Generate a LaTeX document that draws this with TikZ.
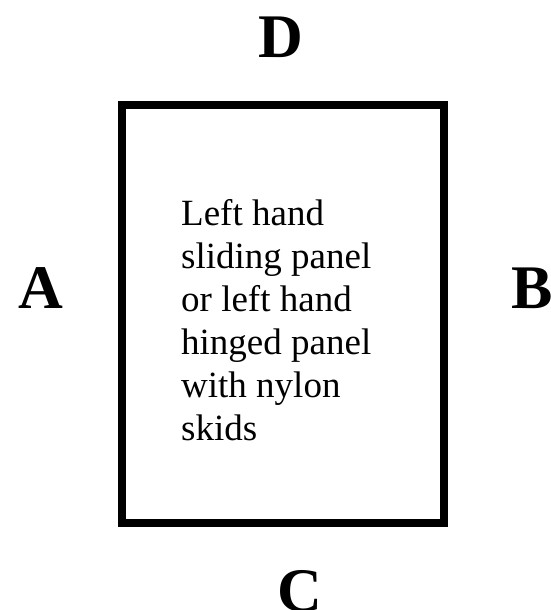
\documentclass[tikz,border=0pt]{standalone}
\usepackage{fontspec}
\setmainfont{Liberation Serif}
\begin{document}
\begin{tikzpicture}[x=1pt,y=1pt,
  side/.style={font=\fontsize{62}{70}\selectfont\bfseries, inner sep=0pt, anchor=base},
  panel/.style={draw=black, line width=8pt},
  body/.style={font=\fontsize{37}{42.9}\selectfont, align=left, inner sep=0pt, anchor=base west}]
\useasboundingbox (0,-610) rectangle (550,0);
\draw[panel] (122,-104.5) rectangle (444,-523);
\node[side] (D) at (281,-58) {D};
\node[side] (A) at (41,-308) {A};
\node[side] (B) at (532,-308) {B};
\node[side] (C) at (300,-611) {C};
\node[body] (T) at (181,-440.2) {Left hand\\sliding panel\\or left hand\\hinged panel\\with nylon\\skids};
\end{tikzpicture}
\end{document}
